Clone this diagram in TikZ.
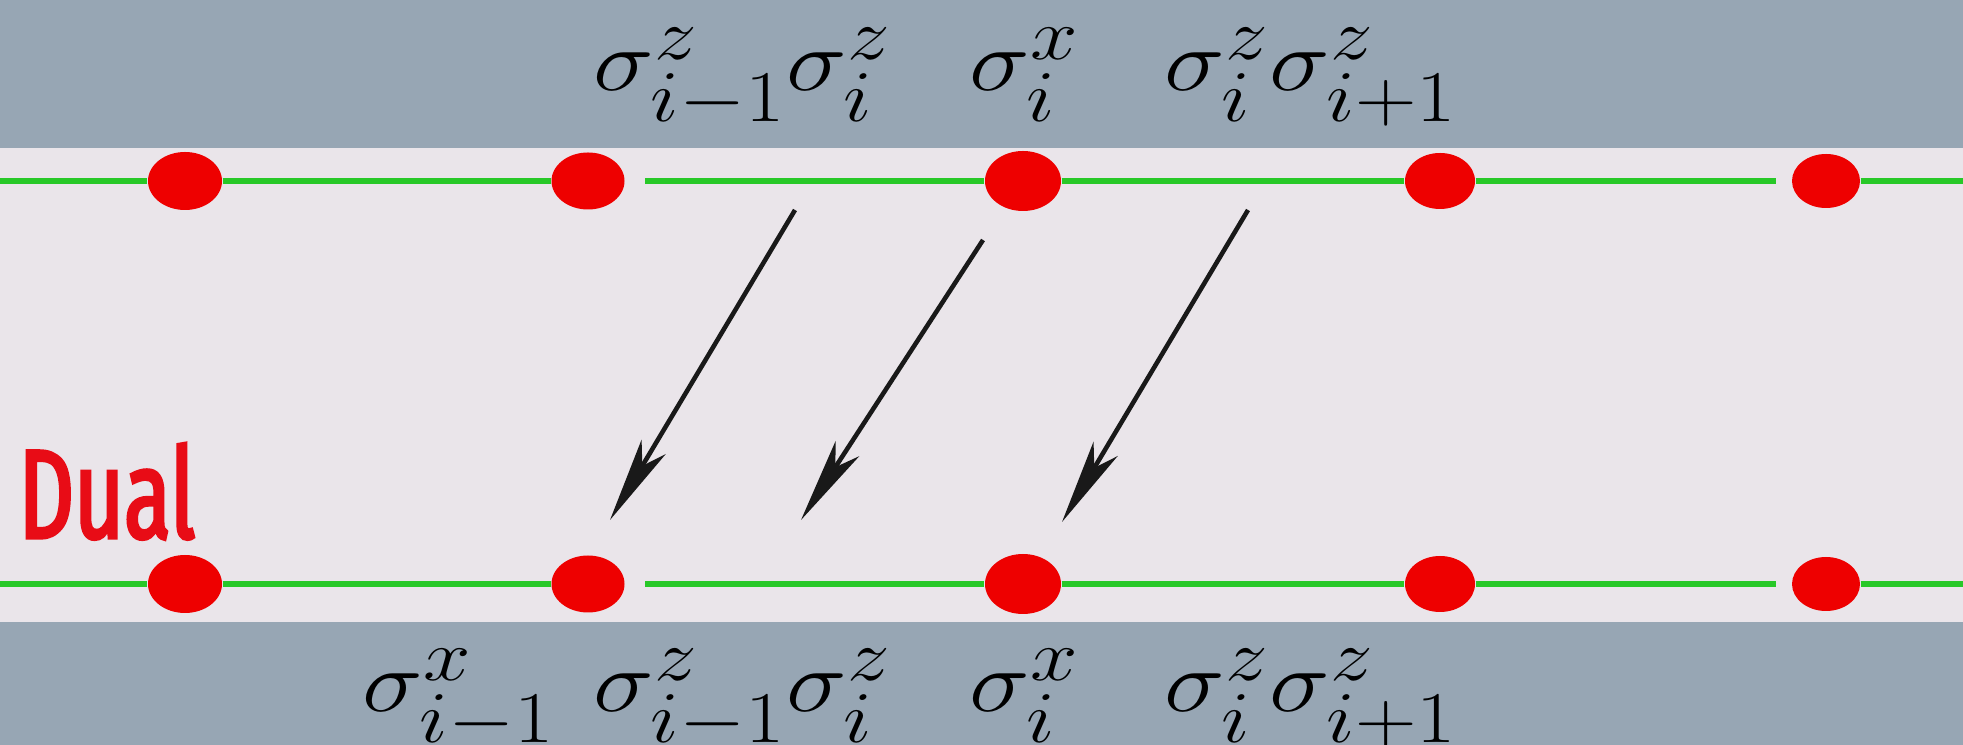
\documentclass[tikz,border=0pt]{standalone}
\usepackage{fontspec}
\usepackage{amsmath}
\usetikzlibrary{positioning}
\usetikzlibrary{calc}
\usetikzlibrary{arrows.meta}
\usetikzlibrary{shapes.geometric}
\newfontfamily\dualfont[FakeStretch=0.68, FakeBold=2.5]{Fira Sans}
\definecolor{band}{RGB}{151,166,180}
\definecolor{strip}{RGB}{234,229,234}
\definecolor{bondgreen}{RGB}{40,200,40}
\definecolor{sitered}{RGB}{238,0,0}
\definecolor{dualred}{RGB}{232,12,22}
\newcommand{\op}[1]{\scalebox{1.17}[1]{$#1$}}

\begin{document}
\begin{tikzpicture}[
    site/.style={ellipse, fill=sitered, inner sep=0pt},
    bond/.style={draw=bondgreen, line width=1.7pt},
    lbl/.style={anchor=base west, inner sep=0pt, font=\fontsize{28}{34}\selectfont},
    map/.style={-{Stealth[length=8.5mm, width=2.8mm, inset=2.2mm]}, line width=1.3pt, black!90}]
    \useasboundingbox (0,0) rectangle (19.63,7.45);
    \fill[band] (0,0) rectangle (19.63,7.45);
    \fill[strip] (0,1.23) rectangle (19.63,5.97);
    % the two chains, t = original, b = dual
    \foreach \r/\y in {t/5.64, b/1.61} {
        \coordinate (\r0) at (0,\y);
        \coordinate (\r6) at (19.63,\y);
        \foreach \i/\x/\w/\h in {1/1.85/0.74/0.58, 2/5.88/0.73/0.57, 3/10.23/0.76/0.60, 4/14.40/0.70/0.56, 5/18.26/0.68/0.54} {
            \node[site, minimum width=\w cm, minimum height=\h cm] (\r\i) at (\x,\y) {};
        }
        \draw[bond] (\r0) -- (\r1);
        \draw[bond] (\r1) -- (\r2);
        \draw[bond, shorten <=2mm] (\r2) -- (\r3);
        \draw[bond] (\r3) -- (\r4);
        \draw[bond, shorten >=1.5mm] (\r4) -- (\r5);
        \draw[bond] (\r5) -- (\r6);
    }
    % operators
    \node[lbl] (tzz) at (5.93,6.54) {\op{\sigma^z_{i-1}\sigma^z_i}};
    \node[lbl] (tx) at (9.69,6.54) {\op{\sigma^x_i}};
    \node[lbl] (tzzr) at (11.64,6.54) {\op{\sigma^z_i\sigma^z_{i+1}}};
    \node[lbl] (bxl) at (3.62,0.33) {\op{\sigma^x_{i-1}}};
    \node[lbl] (bzz) at (5.93,0.33) {\op{\sigma^z_{i-1}\sigma^z_i}};
    \node[lbl] (bx) at (9.69,0.33) {\op{\sigma^x_i}};
    \node[lbl] (bzzr) at (11.64,0.33) {\op{\sigma^z_i\sigma^z_{i+1}}};
    \node[anchor=base west, inner sep=0pt, text=dualred, font=\dualfont\fontsize{36}{40}\selectfont] (dual) at (0.18,2.07) {Dual};
    % duality map
    \foreach \i/\sx/\sy/\ex/\ey in {1/7.95/5.35/6.10/2.25, 2/9.83/5.05/8.01/2.25, 3/12.48/5.35/10.62/2.23} {
        \coordinate (s\i) at (\sx,\sy);
        \coordinate (e\i) at (\ex,\ey);
        \draw[map] (s\i) -- (e\i);
    }
\end{tikzpicture}
\end{document}
